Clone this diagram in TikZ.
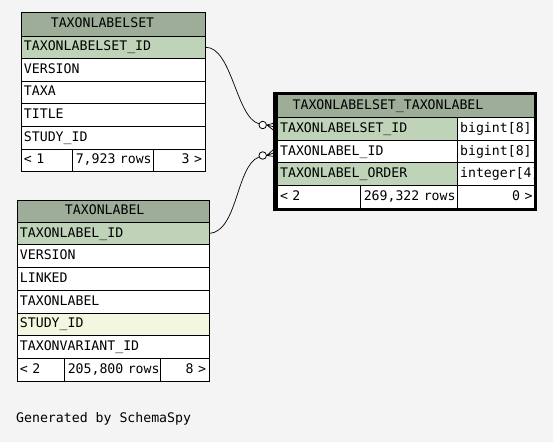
\documentclass[tikz,border=0pt]{standalone}
\usepackage{fontspec}
\newfontfamily\mono{DejaVu Sans Mono}
\definecolor{bgc}{HTML}{F4F4F4}
\definecolor{hdr}{HTML}{9EAD98}
\definecolor{pkc}{HTML}{BFD3B9}
\definecolor{fkc}{HTML}{F4F7E0}
\begin{document}
\begin{tikzpicture}[x=1pt,y=-1pt,
  tcell/.style={draw=black, line width=0.9pt, anchor=north west, inner xsep=3pt, inner ysep=0pt,
    align=left, font=\mono\fontsize{13.2}{15}\selectfont, text height=9.5pt, text depth=2.5pt, fill=white},
  ttitle/.style={inner sep=0pt, font=\mono\fontsize{13.2}{15}\selectfont, text height=9.5pt, text depth=2.5pt},
  conn/.style={draw=black, line width=0.7pt},
  ring/.style={circle, draw=black, line width=0.8pt, fill=white, minimum size=7.5pt, inner sep=0pt}]
\fill[bgc] (0,0) rectangle (553,442);
\useasboundingbox (0,0) rectangle (553,442);

% ---- TAXONLABELSET ----
\node[tcell, fill=hdr, text width=178pt, minimum height=24pt] (sHead) at (20.5,11.5) {};
\node[ttitle] (sTitle) at (102.5,23.5) {TAXONLABELSET};
\node[tcell, fill=pkc, text width=178pt, minimum height=22.6pt] (sId) at (20.5,35.5) {TAXONLABELSET\_ID};
\node[tcell, text width=178pt, minimum height=22.6pt] (sVer) at (20.5,58.1) {VERSION};
\node[tcell, text width=178pt, minimum height=22.6pt] (sTaxa) at (20.5,80.7) {TAXA};
\node[tcell, text width=178pt, minimum height=22.6pt] (sTitleCol) at (20.5,103.3) {TITLE};
\node[tcell, text width=178pt, minimum height=22.6pt] (sStudy) at (20.5,125.9) {STUDY\_ID};
\node[tcell, text width=45.8pt, minimum height=22.6pt] (sF1) at (20.5,148.5) {\mbox{< 1}};
\node[tcell, text width=74.4pt, minimum height=22.6pt] (sF2) at (72.3,148.5) {\mbox{7,923 rows}\hss};
\node[tcell, text width=45.8pt, minimum height=22.6pt, align=right] (sF3) at (152.7,148.5) {\mbox{3 >}};

% ---- TAXONLABEL ----
\node[tcell, fill=hdr, text width=186pt, minimum height=22.2pt] (lHead) at (16.5,199.5) {};
\node[ttitle] (lTitle) at (104.7,210.6) {TAXONLABEL};
\node[tcell, fill=pkc, text width=186pt, minimum height=22.7pt] (lId) at (16.5,221.7) {TAXONLABEL\_ID};
\node[tcell, text width=186pt, minimum height=22.7pt] (lVer) at (16.5,244.4) {VERSION};
\node[tcell, text width=186pt, minimum height=22.7pt] (lLinked) at (16.5,267.1) {LINKED};
\node[tcell, text width=186pt, minimum height=22.7pt] (lLabel) at (16.5,289.8) {TAXONLABEL};
\node[tcell, fill=fkc, text width=186pt, minimum height=22.7pt] (lStudy) at (16.5,312.5) {STUDY\_ID};
\node[tcell, text width=186pt, minimum height=22.7pt] (lVar) at (16.5,335.2) {TAXONVARIANT\_ID};
\node[tcell, text width=41.8pt, minimum height=22.7pt] (lF1) at (16.5,357.9) {\mbox{< 2}};
\node[tcell, text width=90pt, minimum height=22.7pt] (lF2) at (64.3,357.9) {\mbox{205,800 rows}\hss};
\node[tcell, text width=42.2pt, minimum height=22.7pt, align=right] (lF3) at (160.3,357.9) {\mbox{8 >}};

% ---- TAXONLABELSET_TAXONLABEL ----
\begin{scope}
\clip (276.7,94) rectangle (535,208.3);
\node[tcell, fill=hdr, text width=252.3pt, minimum height=23.3pt] (jHead) at (276.7,94) {};
\node[tcell, fill=pkc, text width=174pt, minimum height=22.5pt] (jSet) at (276.7,117.3) {TAXONLABELSET\_ID};
\node[tcell, text width=72.3pt, minimum height=22.5pt] (jSetT) at (456.7,117.3) {bigint[8]};
\node[tcell, text width=174pt, minimum height=22.5pt] (jLab) at (276.7,139.8) {TAXONLABEL\_ID};
\node[tcell, text width=72.3pt, minimum height=22.5pt] (jLabT) at (456.7,139.8) {bigint[8]};
\node[tcell, fill=pkc, text width=174pt, minimum height=22.5pt] (jOrd) at (276.7,162.3) {TAXONLABEL\_ORDER};
\node[tcell, text width=72.3pt, minimum height=22.5pt] (jOrdT) at (456.7,162.3) {\mbox{integer[4]}\hss};
\node[tcell, text width=77.6pt, minimum height=23pt] (jF1) at (276.7,184.8) {\mbox{< 2}};
\node[tcell, text width=90.4pt, minimum height=23pt] (jF2) at (360.3,184.8) {\mbox{269,322 rows}\hss};
\node[tcell, text width=72.3pt, minimum height=23pt, align=right] (jF3) at (456.7,184.8) {\mbox{0 >}};
\end{scope}
\node[ttitle] (jTitle) at (388,105.7) {TAXONLABELSET\_TAXONLABEL};
\draw[line width=3.2pt] (275,93.3) rectangle (535.7,209.5);

% ---- connectors ----
\node[ring] (r1) at (262.7,125) {};
\node[ring] (r2) at (262.7,155.5) {};
\coordinate (f1a) at (274.5,123);
\coordinate (f1b) at (274.5,127);
\coordinate (f1c) at (274.5,131);
\coordinate (f2a) at (274.5,148.5);
\coordinate (f2b) at (274.5,152.5);
\coordinate (f2c) at (274.5,156.5);
\draw[conn] (sId.east) .. controls (232,47) and (236,117) .. (r1);
\draw[conn] (lId.east) .. controls (238,231) and (236,166) .. (r2);
\draw[conn] (r1.east) -- (f1a) (r1.east) -- (f1b) (r1.east) -- (f1c);
\draw[conn] (r2.east) -- (f2a) (r2.east) -- (f2b) (r2.east) -- (f2c);

\node[ttitle, anchor=west] (gen) at (16,419) {Generated by SchemaSpy};
\end{tikzpicture}
\end{document}
